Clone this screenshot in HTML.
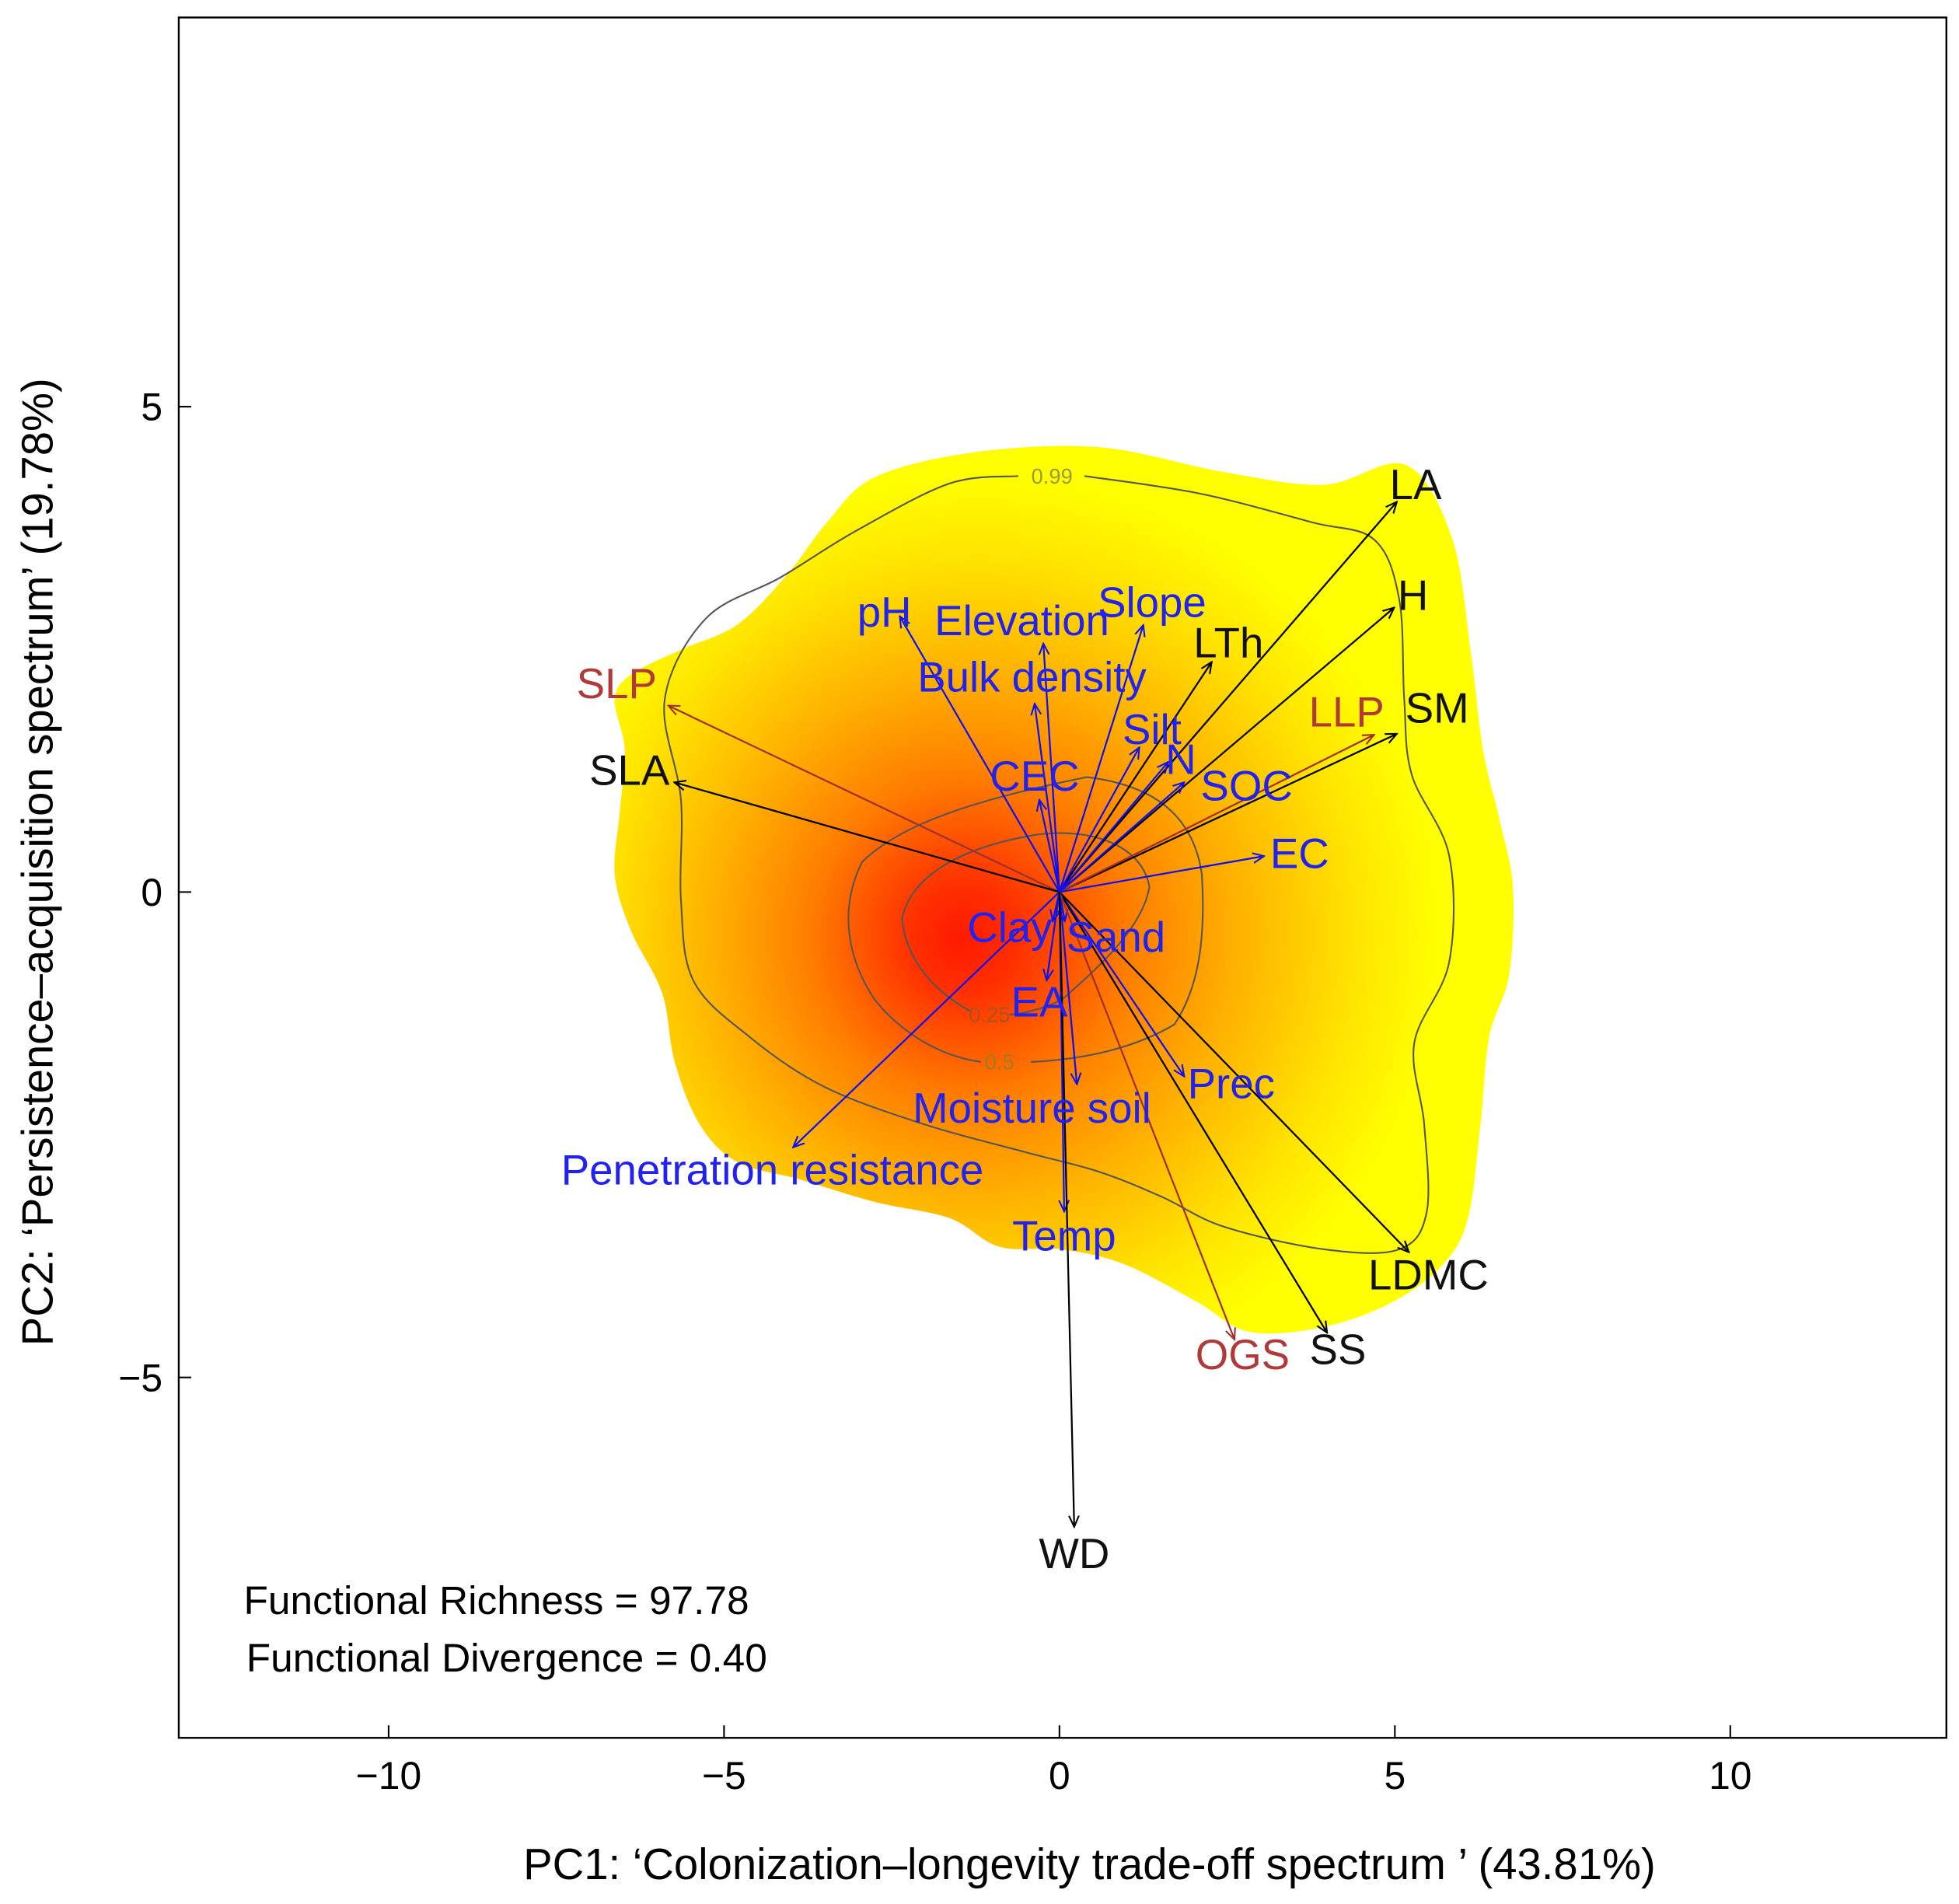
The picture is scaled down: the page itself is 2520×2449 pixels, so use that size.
<!DOCTYPE html>
<html><head><meta charset="utf-8">
<style>html,body{margin:0;padding:0;background:#fff}svg{display:block}text{font-family:"Liberation Sans",sans-serif}</style>
</head><body>
<svg id="chart" width="2520" height="2449" viewBox="0 0 1568 1524" xmlns="http://www.w3.org/2000/svg">
<defs>
<radialGradient id="dens" gradientUnits="userSpaceOnUse" cx="790" cy="745" r="430" fx="770" fy="752">
<stop offset="0" stop-color="#ff1a00"/>
<stop offset="0.1" stop-color="#ff3000"/>
<stop offset="0.3" stop-color="#ff7e00"/>
<stop offset="0.5" stop-color="#ffb400"/>
<stop offset="0.7" stop-color="#ffe400"/>
<stop offset="0.85" stop-color="#ffff00"/>
<stop offset="1" stop-color="#ffff00"/>
</radialGradient>
<marker id="ab" markerWidth="10" markerHeight="10" refX="9" refY="5" orient="auto" markerUnits="userSpaceOnUse"><path d="M0,1 L9,5 L0,9" fill="none" stroke="#000" stroke-width="1.3"/></marker>
<marker id="au" markerWidth="10" markerHeight="10" refX="9" refY="5" orient="auto" markerUnits="userSpaceOnUse"><path d="M0,1 L9,5 L0,9" fill="none" stroke="#1010ee" stroke-width="1.3"/></marker>
<marker id="ar" markerWidth="10" markerHeight="10" refX="9" refY="5" orient="auto" markerUnits="userSpaceOnUse"><path d="M0,1 L9,5 L0,9" fill="none" stroke="#a03030" stroke-width="1.3"/></marker>
</defs>
<path id="blob" fill="url(#dens)" d=""/>
<path id="c99" fill="none" stroke="#555" stroke-width="1.3" d=""/>
<path fill="none" stroke="#555" stroke-width="1.3" d="M785,850 C750,845 720,825 700,800 C680,770 670,730 690,690 C720,660 780,640 870,622 C920,628 955,650 962,700 C965,750 960,790 940,820 C910,838 870,848 825,850"/>
<path fill="none" stroke="#555" stroke-width="1.3" d="M778,810 C750,795 725,770 722,735 C730,700 770,678 830,668 C880,662 915,680 920,710 C915,740 885,770 850,800 C835,808 815,812 808,812"/>
<text x="842" y="387" font-size="17" fill="#999a40" text-anchor="middle">0.99</text>
<text x="800" y="856" font-size="17" fill="#a07a20" text-anchor="middle">0.5</text>
<text x="792" y="818" font-size="17" fill="#b05020" text-anchor="middle">0.25</text>
<g id="arrows"></g>
<g id="labels"></g>
<rect x="143" y="14" width="1415" height="1377" fill="none" stroke="#000" stroke-width="1.5"/>
<g id="ticks"></g>
<text x="872" y="1504" font-size="35" text-anchor="middle">PC1: ‘Colonization–longevity trade-off spectrum ’ (43.81%)</text>
<text transform="translate(42,690) rotate(-90)" font-size="35" text-anchor="middle">PC2: ‘Persistence–acquisition spectrum’ (19.78%)</text>
<text x="195" y="1292" font-size="32">Functional Richness = 97.78</text>
<text x="197" y="1338" font-size="32">Functional Divergence = 0.40</text>
</svg>
<script>
const varNames = ["LA","H","SM","LLP","LTh","SLP","SLA","pH","Elevation","Bulk density","Slope","Silt","N","SOC","CEC","EC","Clay","Sand","EA","Moisture soil","Prec","Penetration resistance","Temp","LDMC","SS","OGS","WD"];
const varGroup = ["t","t","t","r","t","r","t","e","e","e","e","e","e","e","e","e","e","e","e","e","e","e","e","t","t","r","t"];
const pc1 = [5.03,4.99,5.03,4.69,2.27,-5.83,-5.74,-2.38,-0.24,-0.37,1.25,1.19,1.62,1.86,-0.30,3.05,-0.10,0.08,-0.19,0.26,1.86,-3.97,0.07,5.21,3.99,2.61,0.22];
const pc2 = [4.02,2.93,1.63,1.62,2.37,1.92,1.13,2.84,2.56,1.94,2.75,1.49,1.34,1.13,0.95,0.37,-0.30,-0.30,-0.91,-1.98,-1.90,-2.63,-3.29,-3.71,-4.54,-4.61,-6.54];
const labX = [5.31,5.27,5.63,4.28,2.52,-6.60,-6.41,-2.61,-0.56,-0.41,1.38,1.38,1.81,2.79,-0.37,3.58,-0.74,0.84,-0.30,-0.41,2.56,-4.28,0.07,5.50,4.15,2.73,0.22];
const labY = [4.20,3.06,1.90,1.86,2.57,2.15,1.26,2.89,2.80,2.22,2.99,1.68,1.37,1.10,1.20,0.40,-0.36,-0.46,-1.13,-2.22,-1.97,-2.86,-3.54,-3.94,-4.71,-4.76,-6.81];
const xTicks = [-10,-5,0,5,10];
const yTicks = [-5,0,5];
const X = v => 848 + v*53.7;
const Y = v => 714 - v*77.7;
const NS = "http://www.w3.org/2000/svg";
function smooth(p, closed){
  const n=p.length; let d="M"+p[0][0]+","+p[0][1];
  const last = closed ? n : n-1;
  for(let i=0;i<last;i++){
    const p0=p[(i-1+n)%n], p1=p[i], p2=p[(i+1)%n], p3=p[(i+2)%n];
    const a=closed||i>0?p0:p1, b=closed||i<n-2?p3:p2;
    d+=" C"+(p1[0]+(p2[0]-a[0])/6)+","+(p1[1]+(p2[1]-a[1])/6)+" "+(p2[0]-(b[0]-p1[0])/6)+","+(p2[1]-(b[1]-p1[1])/6)+" "+p2[0]+","+p2[1];
  }
  return d+(closed?" Z":"");
}
const blobPts=[[700,382],[780,362],[880,358],[980,378],[1060,388],[1125,372],[1162,430],[1177,520],[1187,600],[1200,655],[1211,710],[1208,780],[1192,830],[1185,900],[1175,975],[1155,1012],[1115,1042],[1060,1062],[1000,1066],[958,1042],[900,1012],[850,1000],[800,998],[760,975],[700,962],[640,944],[590,930],[560,900],[540,850],[530,795],[505,745],[492,700],[496,650],[500,600],[492,560],[505,540],[545,520],[590,500],[630,460],[662,418]];
document.getElementById("blob").setAttribute("d", smooth(blobPts,true));
const c99=[[868,381],[960,395],[1050,418],[1100,432],[1120,480],[1124,560],[1130,620],[1160,685],[1160,770],[1132,835],[1140,900],[1142,970],[1120,1000],[1060,1000],[980,982],[930,958],[880,938],[820,922],[740,900],[660,870],[600,830],[555,785],[545,720],[545,640],[532,560],[565,495],[625,462],[685,425],[760,387],[815,381]];
document.getElementById("c99").setAttribute("d", smooth(c99,false));
const col = {t:"#000", e:"#1010ee", r:"#a03030"};
const mk = {t:"url(#ab)", e:"url(#au)", r:"url(#ar)"};
const ga = document.getElementById("arrows"), gl = document.getElementById("labels"), gt = document.getElementById("ticks");
varNames.forEach((n,i)=>{
  const g = varGroup[i];
  const l = document.createElementNS(NS,"line");
  l.setAttribute("x1",X(0)); l.setAttribute("y1",Y(0));
  l.setAttribute("x2",X(pc1[i])); l.setAttribute("y2",Y(pc2[i]));
  l.setAttribute("stroke",col[g]); l.setAttribute("stroke-width","1.4");
  l.setAttribute("marker-end",mk[g]);
  
  
  ga.appendChild(l);
  const t = document.createElementNS(NS,"text");
  t.setAttribute("x",X(labX[i])); t.setAttribute("y",Y(labY[i])+12);
  t.setAttribute("text-anchor","middle"); t.setAttribute("font-size","34");
  t.setAttribute("fill", g==="r" ? "#b03a3a" : (g==="e" ? "#2222ee" : "#111"));
  t.textContent = n;
  
  
  gl.appendChild(t);
});
xTicks.forEach(v=>{
  const l = document.createElementNS(NS,"line");
  l.setAttribute("x1",X(v)); l.setAttribute("x2",X(v)); l.setAttribute("y1",1391); l.setAttribute("y2",1381);
  l.setAttribute("stroke","#000"); l.setAttribute("stroke-width","1.3");
  
  
  gt.appendChild(l);
  const t = document.createElementNS(NS,"text");
  t.setAttribute("x",X(v)); t.setAttribute("y",1432); t.setAttribute("text-anchor","middle"); t.setAttribute("font-size","31");
  t.textContent = v<0 ? "\u2212"+Math.abs(v) : String(v);
  
  
  gt.appendChild(t);
});
yTicks.forEach(v=>{
  const l = document.createElementNS(NS,"line");
  l.setAttribute("x1",143); l.setAttribute("x2",153); l.setAttribute("y1",Y(v)); l.setAttribute("y2",Y(v));
  l.setAttribute("stroke","#000"); l.setAttribute("stroke-width","1.3");
  
  
  gt.appendChild(l);
  const t = document.createElementNS(NS,"text");
  t.setAttribute("x",130); t.setAttribute("y",Y(v)+11); t.setAttribute("text-anchor","end"); t.setAttribute("font-size","31");
  t.textContent = v<0 ? "\u2212"+Math.abs(v) : String(v);
  
  
  gt.appendChild(t);
});
</script>
</body></html>
